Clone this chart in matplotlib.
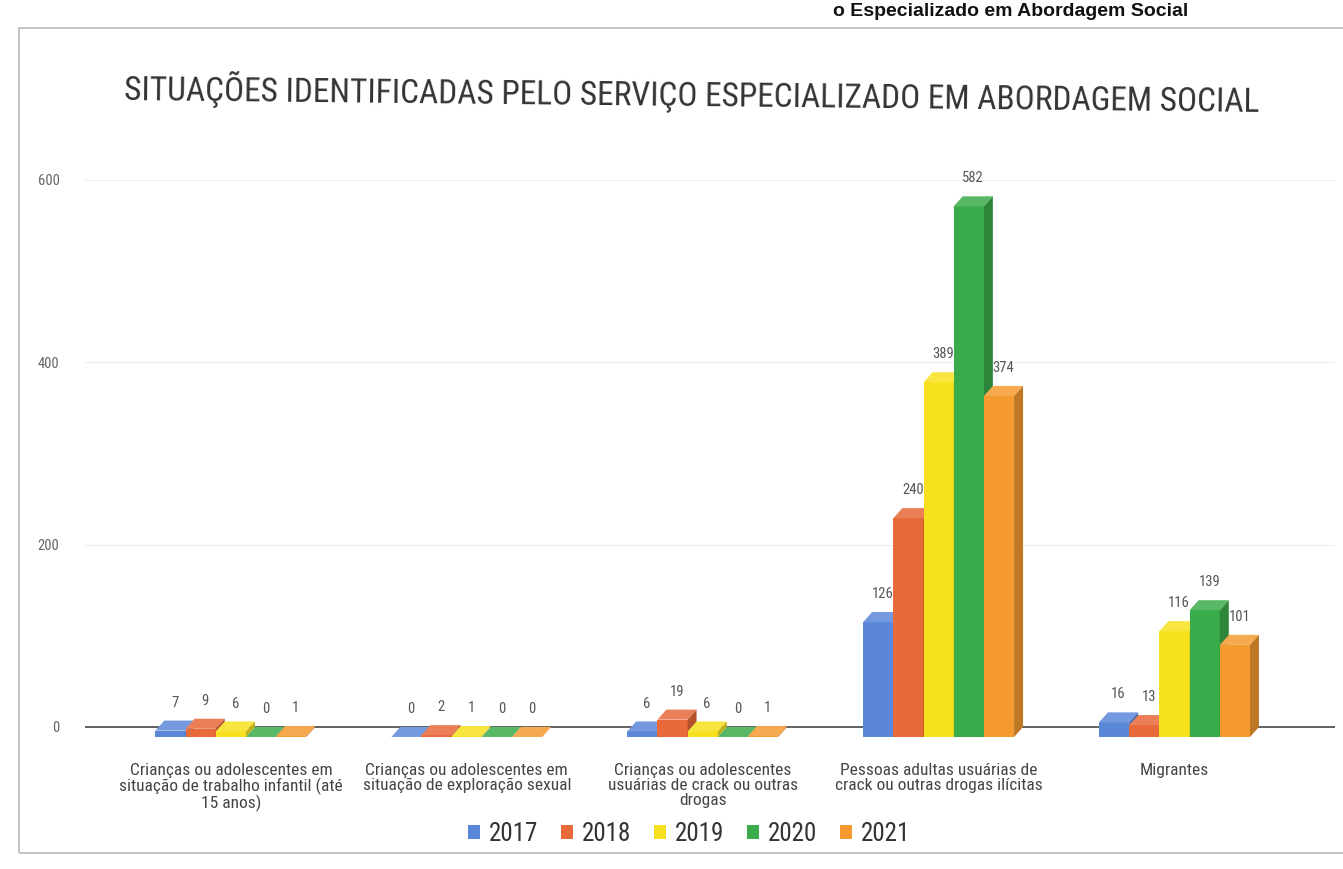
import matplotlib
matplotlib.use("Agg")
import matplotlib.pyplot as plt
from matplotlib.patches import Polygon, Rectangle
from matplotlib import font_manager
import matplotlib.colors as mcolors
import numpy as np

categories = [
    "Crianças ou adolescentes em\nsituação de trabalho infantil (até\n15 anos)",
    "Crianças ou adolescentes em\nsituação de exploração sexual",
    "Crianças ou adolescentes\nusuárias de crack ou outras\ndrogas",
    "Pessoas adultas usuárias de\ncrack ou outras drogas ilícitas",
    "Migrantes",
]
years = ["2017", "2018", "2019", "2020", "2021"]
values = {
    "2017": [7, 0, 6, 126, 16],
    "2018": [9, 2, 19, 240, 13],
    "2019": [6, 1, 6, 389, 116],
    "2020": [0, 0, 0, 582, 139],
    "2021": [1, 0, 1, 374, 101],
}
colors = ["#5b87d9", "#e8693a", "#f7e11e", "#3aab4a", "#f49a2f"]
yticks = [0, 200, 400, 600]
title = "SITUAÇÕES IDENTIFICADAS PELO SERVIÇO ESPECIALIZADO EM ABORDAGEM SOCIAL"

# look for a narrow / condensed sans font (reference uses Arial Narrow-like type)
narrow_path = None
cands = []
for f in font_manager.fontManager.ttflist:
    low = f.fname.lower()
    if ("narrow" in low or "condensed" in low) and "bold" not in low and "italic" not in low \
            and "oblique" not in low and "mono" not in low and "serif" not in low.replace("sans", ""):
        cands.append(f.fname)
pref = ["liberationsansnarrow-regular", "robotocondensed-regular", "dejavusanscondensed.",
        "opensans_condensed", "notosans-condensed"]
for p in pref:
    for c in cands:
        if p in c.lower().replace(" ", ""):
            narrow_path = c
            break
    if narrow_path:
        break
if narrow_path is None and cands:
    narrow_path = sorted(cands)[0]

def fp(size, **kw):
    if narrow_path:
        return font_manager.FontProperties(fname=narrow_path, size=size, **kw)
    return font_manager.FontProperties(family="DejaVu Sans", stretch="condensed", size=size, **kw)

fig = plt.figure(figsize=(13.43, 8.69), dpi=100)
ax = fig.add_axes([0.063, 0.132, 0.931, 0.661])

n = len(years)
w = 0.128
dx = 0.038   # depth in x (category units)
D = 11.0     # depth in y (data units)
x = np.arange(len(categories))

def shade(c, f):
    r, g, b = mcolors.to_rgb(c)
    if f < 1:
        return (r * f, g * f, b * f)
    return (r + (1 - r) * (f - 1), g + (1 - g) * (f - 1), b + (1 - b) * (f - 1))

for i, yr in enumerate(years):
    xs = x + (i - (n - 1) / 2) * w - w / 2
    vals = values[yr]
    col = colors[i]
    ax.bar(xs, vals, width=w, bottom=-D, align="edge", color=col,
           edgecolor="none", zorder=3, label=yr)
    for xl, v in zip(xs, vals):
        top = v - D
        ax.add_patch(Polygon([(xl, top), (xl + w, top), (xl + w + dx, v), (xl + dx, v)],
                             closed=True, facecolor=shade(col, 1.15), edgecolor="none", zorder=3))
        ax.add_patch(Polygon([(xl + w, -D), (xl + w + dx, 0), (xl + w + dx, v), (xl + w, top)],
                             closed=True, facecolor=shade(col, 0.78), edgecolor="none", zorder=3))
        ax.text(xl + (w + dx) / 2, v + 12, f"{v}", ha="center", va="bottom",
                fontproperties=fp(10.5), color="#555555", zorder=4)

ax.axhline(0, color="#555555", lw=1.3, zorder=2)
for t in yticks[1:]:
    ax.axhline(t, color="#eeeeee", lw=0.8, zorder=1)

ax.set_xlim(-0.62, 4.68)
ax.set_ylim(-30, 600)
ax.set_yticks(yticks)
ax.set_yticklabels([str(t) for t in yticks], color="#666666")
for lbl in ax.get_yticklabels():
    lbl.set_fontproperties(fp(10.5))
ax.tick_params(axis="y", length=0, pad=18)
ax.set_xticks(x)
ax.set_xticklabels(categories, color="#444444", linespacing=1.0)
for lbl in ax.get_xticklabels():
    lbl.set_fontproperties(fp(12.5))
ax.tick_params(axis="x", length=0, pad=6)
for s in ax.spines.values():
    s.set_visible(False)

fig.text(0.515, 0.892, title, ha="center", va="center", fontproperties=fp(24),
         color="#333333", rotation=-0.6)

leg = fig.legend(loc="center", bbox_to_anchor=(0.513, 0.040), ncol=5, frameon=False,
                 prop=fp(18), handlelength=0.5, handleheight=0.5, handletextpad=0.35,
                 columnspacing=0.9, labelcolor="#333333")

# page frame and header line of the scanned document
fig.add_artist(Rectangle((0.014, 0.018), 0.99, 0.95, transform=fig.transFigure,
                         fill=False, edgecolor="#bbbbbb", lw=1.2))
fig.text(0.62, 0.987, "o Especializado em Abordagem Social", ha="left", va="center",
         fontsize=14, fontweight="bold", color="#111111", family=["Liberation Sans", "DejaVu Sans"])

fig.savefig("out.png", dpi=100, facecolor="white")
